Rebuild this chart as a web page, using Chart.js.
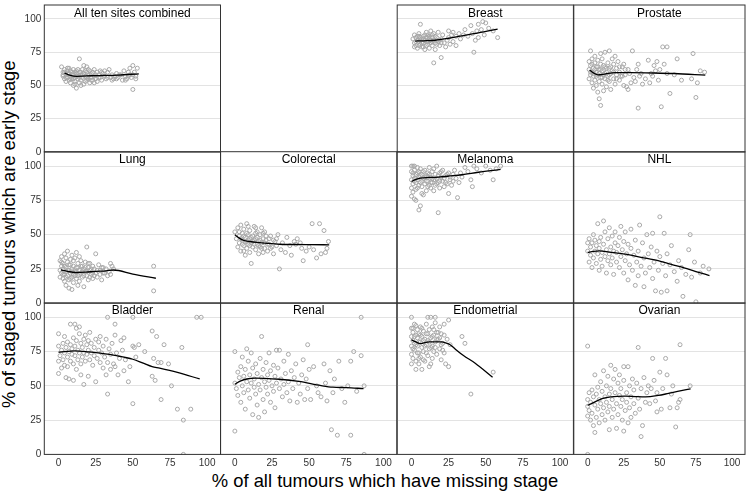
<!DOCTYPE html>
<html>
<head>
<meta charset="utf-8">
<script src="https://cdn.jsdelivr.net/npm/chart.js@4.4.1/dist/chart.umd.min.js"></script>
<style>
  body { margin: 0; background: #fff; }
  #wrap { position: relative; width: 750px; height: 492px; overflow: hidden; }
  #wrap canvas { position: absolute; left: 0; top: 0; }
  .axtitle { position: absolute; font-family: "Liberation Sans", Arial, sans-serif; font-size: 18.4px; line-height: 18.4px; color: #000; white-space: nowrap; text-align: center; }
</style>
</head>
<body>
<div id="wrap">
  <div class="axtitle" style="left:185px; top:472px; width:400px;">% of all tumours which have missing stage</div>
  <div class="axtitle" style="left:-191px; top:224.8px; width:400px; transform:rotate(-90deg);">% of staged tumours which are early stage</div>
</div>
<script>
// tick labels on both axes
const tickVals = [0, 25, 50, 75, 100];

// [% missing stage, % early stage] per site
const allSites = [[2,64],[3,60],[3,57],[4,55],[4,62],[5,58],[5,53],[6,61],[6,56],[7,59],[7,54],[7,63],[8,57],[8,52],[9,60],[9,55],[10,58],[10,50],[10,62],[11,56],[11,53],[12,59],[12,48],[12,61],[13,55],[13,57],[14,70],[14,52],[14,60],[15,58],[15,54],[16,62],[16,56],[17,65],[17,59],[17,51],[18,57],[18,53],[19,60],[19,64],[20,55],[20,58],[21,52],[21,61],[22,56],[22,59],[23,54],[24,57],[24,62],[25,55],[26,60],[26,53],[27,58],[28,61],[28,56],[29,54],[30,59],[31,57],[32,55],[33,60],[34,62],[35,56],[36,58],[37,55],[38,57],[39,59],[40,56],[42,58],[43,54],[44,61],[45,57],[46,55],[47,60],[48,63],[49,56],[50,58],[50,65],[50,47],[51,60],[52,57],[53,63],[45,54],[41,58],[47,57],
  [3,58],[4,60],[5,56],[6,59],[8,61],[9,58],[10,55],[11,60],[12,57],[13,62],[14,56],[15,60],[16,58],[18,61],[19,56],[20,62],[21,58],[22,54],[23,60],[25,58],[27,56],[29,60],[31,61],[33,56],[6,63],[8,55],[11,51],[15,50],[19,54],[24,52],[36,54],[39,55],[48,58],[52,55]];
const allSitesFit = [[4,59.3],[8,57.6],[12,56.9],[16,57],[22,57.3],[30,57.5],[40,57.8],[54,58.8]];

const breast = [[1,85],[2,82],[2,88],[3,80],[3,86],[4,84],[4,78],[5,89],[5,83],[6,96],[6,81],[6,86],[7,79],[7,85],[8,87],[8,82],[9,77],[9,84],[10,90],[10,86],[10,80],[11,83],[11,88],[12,78],[12,85],[13,82],[13,91],[14,86],[14,80],[15,67],[15,84],[15,89],[16,82],[16,77],[17,86],[18,83],[18,90],[19,80],[20,71],[20,85],[21,88],[22,82],[23,79],[24,84],[25,91],[25,86],[26,81],[27,88],[28,90],[28,83],[30,87],[30,80],[32,89],[33,85],[35,88],[36,92],[38,87],[40,95],[41,89],[42,75],[43,84],[44,91],[45,86],[45,96],[47,92],[48,98],[49,88],[50,97],[52,93],[55,91],[58,86],
  [3,83],[5,87],[7,82],[8,79],[9,88],[11,81],[12,87],[13,84],[14,83],[16,87],[17,81],[19,84],[4,87],[6,84],[10,83],[2,79],[5,80],[8,85],[11,86],[14,88],[17,84],[20,82]];
const breastFit = [[2.5,83.4],[8,83.6],[16,84],[25,85.5],[34,87.3],[45,89.5],[58,92.4]];

const prostate = [[1,68],[1,62],[1,55],[2,76],[2,58],[2,65],[3,52],[3,70],[3,60],[4,63],[4,48],[4,57],[5,67],[5,54],[5,72],[6,60],[6,50],[6,64],[7,58],[7,45],[7,69],[8,62],[8,53],[8,40],[9,66],[9,56],[9,35],[9,74],[10,61],[10,51],[10,70],[11,58],[11,46],[12,64],[12,55],[12,75],[13,60],[13,49],[14,67],[14,57],[15,53],[15,76],[15,63],[16,59],[16,47],[17,70],[17,61],[18,55],[18,66],[19,51],[19,72],[20,58],[20,63],[21,68],[22,54],[22,60],[23,57],[24,64],[25,66],[25,50],[26,58],[27,49],[28,62],[28,47],[29,59],[30,52],[31,76],[32,56],[33,53],[34,62],[35,66],[35,33],[36,57],[37,59],[38,51],[40,55],[42,69],[43,52],[44,59],[45,57],[46,65],[47,61],[48,68],[49,54],[50,62],[51,34],[52,79],[53,66],[55,79],[55,59],[57,44],[60,58],[62,70],[65,54],[72,55],[73,74],[75,41],[76,52],[78,61],[81,60],
  [2,60],[3,66],[4,59],[5,62],[6,57],[7,64],[8,59],[9,62],[10,56],[11,65],[12,59],[13,63],[14,54],[16,64],[18,60],[20,55],[22,64],[24,57],[26,62],[15,58]];
const prostateFit = [[1.4,61.7],[4,59.5],[7,58],[12,58.6],[19,59.6],[30,59.6],[45,59.4],[60,59],[81.5,57.8]];

const lung = [[1,24],[1,31],[1,19],[2,27],[2,22],[2,34],[3,18],[3,25],[3,29],[4,21],[4,36],[4,16],[5,26],[5,23],[5,13],[6,30],[6,20],[6,38],[7,24],[7,17],[7,11],[8,28],[8,22],[8,32],[9,19],[9,25],[9,10],[10,27],[10,15],[10,21],[11,33],[11,23],[12,18],[12,26],[12,37],[13,20],[13,29],[13,13],[14,24],[14,16],[15,22],[15,31],[16,27],[16,19],[17,25],[17,12],[18,23],[18,30],[19,41],[19,20],[20,26],[20,17],[21,24],[21,29],[22,21],[23,27],[23,18],[24,25],[25,36],[25,22],[26,19],[27,28],[28,24],[29,17],[30,26],[31,22],[33,20],[35,29],[35,21],[36,27],[37,25],[64,27],[64,9],
  [3,21],[4,27],[5,19],[6,24],[7,28],[8,18],[9,23],[10,31],[11,20],[12,23],[13,26],[14,21],[15,27],[16,23],[17,20],[18,26],[19,23],[20,29],[21,19],[22,25],[23,22],[24,20],[26,24],[28,21],[29,26],[30,22],[32,25],[34,23],[2,30],[5,33],[9,35],[14,34]];
const lungFit = [[1.6,24.3],[6,23.2],[12,22.4],[18,22.6],[25,23.2],[32,23.6],[37,24.2],[50,21.2],[65.5,18.2]];

const colorectal = [[0,52],[1,47],[2,41],[2,55],[3,49],[3,44],[4,57],[4,38],[5,51],[5,46],[6,42],[6,54],[7,48],[7,35],[8,45],[8,58],[8,40],[9,50],[9,43],[10,47],[10,37],[10,53],[11,44],[11,29],[12,49],[12,41],[13,46],[13,56],[14,39],[14,51],[15,43],[15,48],[16,45],[16,36],[17,50],[17,41],[18,55],[18,44],[19,47],[20,40],[20,52],[21,46],[22,38],[23,43],[24,49],[25,41],[26,36],[27,45],[28,42],[29,50],[30,25],[31,39],[32,44],[34,37],[35,48],[37,42],[38,35],[40,45],[41,43],[42,47],[44,44],[45,40],[46,31],[48,38],[50,41],[52,58],[53,39],[55,33],[57,58],[58,36],[60,53],[61,37],[62,40],[63,45],
  [3,52],[4,47],[5,43],[6,49],[7,45],[8,51],[9,46],[10,42],[11,48],[12,45],[13,43],[14,47],[15,52],[16,42],[17,46],[18,40],[19,51],[20,44],[21,49],[22,43],[23,47],[24,40],[26,46],[28,47],[6,38],[9,56],[14,55],[19,37]];
const colorectalFit = [[0,49.9],[3,47.5],[6,45.8],[10,45],[15,44.3],[22,43.6],[30,43],[40,42.8],[50,42.7],[63.5,42.6]];

const melanoma = [[0,96],[0,90],[0,84],[0,78],[1,100],[1,93],[1,87],[1,81],[2,97],[2,91],[2,76],[3,94],[3,88],[3,75],[4,99],[4,90],[4,84],[5,96],[5,92],[5,68],[6,71],[6,98],[6,88],[7,94],[7,85],[8,91],[8,79],[9,97],[9,87],[10,93],[10,82],[11,95],[11,89],[12,99],[12,86],[13,92],[13,84],[14,96],[14,88],[15,90],[15,82],[16,94],[16,86],[17,100],[17,91],[18,66],[18,88],[19,95],[19,84],[20,92],[21,89],[21,97],[22,85],[23,93],[24,87],[25,80],[25,95],[26,90],[27,86],[28,94],[29,97],[30,91],[31,77],[32,88],[33,95],[34,92],[36,99],[38,96],[40,90],[41,85],[42,100],[44,98],[47,95],[50,100],[53,97],[55,90],[57,98],[60,100],
  [1,95],[2,89],[3,91],[4,95],[5,86],[6,93],[7,89],[8,96],[9,92],[10,89],[11,92],[12,94],[13,88],[14,91],[15,98],[16,90],[17,87],[18,93],[19,89],[20,96],[22,91],[23,88],[24,94],[26,92],[28,89],[3,83],[7,80],[11,85],[0,100],[2,100]];
const melanomaFit = [[0,88.8],[3,90.3],[6,91.3],[12,91.7],[18,92],[26,92.8],[34,93.7],[45,95.5],[60,97.6]];

const nhl = [[0,38],[0,44],[1,30],[1,47],[2,35],[2,41],[3,26],[3,44],[4,50],[4,33],[5,38],[5,46],[6,29],[6,42],[7,36],[7,58],[8,45],[8,24],[8,40],[9,32],[9,48],[10,37],[10,27],[11,60],[11,43],[12,34],[12,52],[13,39],[13,22],[14,47],[14,31],[15,36],[15,55],[16,41],[16,28],[17,49],[17,33],[18,38],[18,21],[19,44],[19,52],[20,30],[20,37],[21,42],[22,26],[22,48],[23,34],[23,56],[24,39],[25,22],[25,45],[26,31],[26,52],[27,36],[28,17],[28,43],[29,28],[30,40],[30,54],[31,24],[32,35],[33,13],[33,46],[34,30],[35,20],[35,38],[36,57],[37,27],[38,44],[39,12],[39,33],[40,22],[41,50],[42,36],[43,26],[44,41],[45,18],[45,51],[46,30],[47,9],[48,38],[49,24],[50,63],[50,34],[51,8],[52,29],[53,51],[54,20],[55,9],[55,36],[57,28],[58,42],[60,23],[62,16],[63,31],[65,26],[66,5],[68,21],[70,39],[71,50],[72,19],[74,30],[75,1],[78,22],[80,27],[84,25]];
const nhlFit = [[0,37],[4,37.8],[8,38.2],[15,37.3],[26,35.8],[37,33.5],[48.8,31.1],[58,28.3],[66.8,25.8],[75,23.1],[84.4,20.2]];

const bladder = [[0,59],[0,68],[0,88],[0,79],[1,72],[2,76],[2,63],[3,81],[3,69],[4,74],[4,86],[4,65],[5,78],[5,56],[6,71],[6,82],[6,64],[7,75],[7,55],[8,80],[8,95],[8,68],[9,73],[9,77],[10,85],[10,66],[10,54],[11,79],[11,95],[11,72],[12,62],[12,83],[12,92],[13,76],[13,69],[14,88],[14,74],[14,93],[15,81],[15,66],[15,58],[16,78],[16,71],[17,84],[17,51],[17,74],[18,68],[18,87],[19,80],[19,73],[20,57],[20,83],[20,76],[21,69],[21,89],[22,74],[22,81],[23,65],[24,78],[24,72],[25,84],[25,53],[26,70],[27,82],[27,76],[28,67],[28,86],[29,74],[30,79],[30,63],[31,71],[32,84],[32,58],[33,44],[33,100],[33,67],[34,77],[35,73],[35,62],[36,81],[37,66],[38,95],[38,64],[38,87],[39,74],[40,58],[41,70],[42,83],[43,76],[44,61],[44,85],[45,69],[47,53],[48,64],[50,100],[50,37],[50,79],[51,78],[52,71],[54,80],[58,75],[63,90],[63,57],[64,70],[65,54],[66,86],[67,67],[69,67],[69,40],[71,80],[74,66],[76,50],[80,33],[83,78],[84,25],[84,0],[89,33],[93,100],[96,100]];
const bladderFit = [[0,74.5],[6,75.2],[11,75.5],[20,74.8],[28,73.8],[39,72],[50,69.4],[57,66.5],[63,64],[68,62.9],[80,59.8],[95,55]];

const renal = [[0,75],[0,17],[0,52],[1,48],[2,60],[2,43],[3,56],[4,64],[4,38],[5,50],[5,71],[6,57],[6,45],[7,62],[7,33],[8,53],[8,77],[9,47],[9,68],[10,58],[10,41],[11,52],[11,74],[12,63],[12,29],[13,49],[13,55],[14,66],[14,44],[15,59],[15,36],[16,51],[16,27],[17,70],[17,47],[18,86],[18,56],[19,62],[19,40],[20,53],[20,31],[21,67],[21,49],[22,58],[22,44],[23,74],[23,54],[24,61],[24,38],[25,50],[26,65],[26,46],[27,57],[27,34],[28,76],[28,52],[29,63],[30,48],[30,76],[31,55],[32,42],[33,68],[33,51],[34,59],[35,45],[36,73],[36,53],[37,39],[38,61],[39,48],[40,56],[41,66],[42,38],[43,52],[44,44],[45,58],[46,69],[47,40],[48,55],[49,80],[49,48],[50,62],[51,40],[53,64],[55,50],[56,45],[58,42],[60,66],[61,52],[62,39],[64,61],[65,18],[66,45],[67,55],[69,14],[70,68],[72,48],[74,38],[76,50],[78,14],[78,68],[80,75],[82,46],[85,100],[85,72],[87,50],[87,0]];
const renalFit = [[0,51.2],[4,53.6],[8,55],[14,55.6],[20,55.5],[30,54.8],[43,53.2],[58,50.2],[66,49],[75,48.7],[86.6,48]];

const endometrial = [[0,100],[0,92],[0,86],[0,79],[0,73],[0,66],[1,89],[1,83],[1,70],[2,95],[2,81],[2,76],[3,87],[3,62],[3,68],[4,91],[4,79],[4,85],[5,74],[5,88],[5,66],[6,82],[6,93],[6,71],[7,62],[7,86],[7,78],[8,90],[8,75],[9,84],[9,68],[10,95],[10,80],[10,88],[11,72],[11,100],[11,83],[12,77],[12,91],[12,64],[13,85],[13,100],[14,79],[14,93],[14,70],[15,87],[15,75],[16,100],[16,82],[16,96],[17,89],[17,73],[18,84],[19,93],[19,77],[20,69],[20,88],[21,81],[22,95],[22,74],[23,66],[24,84],[25,98],[25,64],[26,80],[34,86],[36,81],[40,44],[55,60],
  [1,92],[2,86],[3,80],[4,74],[5,82],[6,87],[7,92],[8,83],[9,79],[10,74],[11,88],[12,82],[13,78],[14,86],[15,91],[16,78],[17,84],[18,89],[19,85],[20,80],[21,76],[22,87],[1,77],[3,94],[5,70],[8,69],[13,66]];
const endometrialFit = [[0,83.5],[3,82],[6,80.8],[9,81.6],[12,82],[16,82],[20.4,82],[23,81.3],[26,80],[29.4,76.9],[35,72.1],[42.9,66.5],[54.6,56.3]];

const ovarian = [[0,79],[0,40],[0,35],[0,28],[0,0],[1,45],[1,32],[2,38],[2,25],[3,47],[3,30],[4,42],[4,21],[5,36],[5,16],[5,58],[6,44],[6,27],[7,33],[7,49],[8,40],[8,23],[9,53],[9,37],[10,29],[10,46],[11,61],[11,34],[12,42],[12,25],[13,50],[13,38],[14,31],[14,57],[15,44],[15,18],[15,35],[16,65],[16,48],[17,27],[17,40],[18,55],[18,33],[19,45],[19,62],[20,19],[20,37],[21,52],[21,29],[22,43],[22,58],[23,35],[23,48],[24,25],[24,40],[25,17],[25,54],[25,64],[26,32],[27,45],[27,38],[28,64],[28,23],[29,50],[29,34],[30,42],[30,27],[31,55],[32,37],[32,47],[33,30],[34,52],[35,78],[35,41],[36,33],[37,13],[37,48],[38,21],[39,56],[40,38],[41,45],[42,50],[43,37],[44,48],[45,70],[46,54],[47,39],[48,31],[48,45],[50,60],[51,33],[52,48],[54,70],[55,58],[57,34],[58,44],[59,50],[61,20],[62,34],[63,38],[64,80],[64,40],[71,50]];
const ovarianFit = [[0,35.7],[4,37.8],[8,39.8],[12,41.2],[16,42],[26,42.5],[33,42.2],[40,42],[48.8,43],[56,44.5],[62.3,45.9],[71.3,47.8]];

const panels = [
  { label: 'All ten sites combined', pts: allSites, fit: allSitesFit, row: 0, col: 0 },
  { label: 'Breast', pts: breast, fit: breastFit, row: 0, col: 2 },
  { label: 'Prostate', pts: prostate, fit: prostateFit, row: 0, col: 3 },
  { label: 'Lung', pts: lung, fit: lungFit, row: 1, col: 0 },
  { label: 'Colorectal', pts: colorectal, fit: colorectalFit, row: 1, col: 1 },
  { label: 'Melanoma', pts: melanoma, fit: melanomaFit, row: 1, col: 2 },
  { label: 'NHL', pts: nhl, fit: nhlFit, row: 1, col: 3 },
  { label: 'Bladder', pts: bladder, fit: bladderFit, row: 2, col: 0 },
  { label: 'Renal', pts: renal, fit: renalFit, row: 2, col: 1 },
  { label: 'Endometrial', pts: endometrial, fit: endometrialFit, row: 2, col: 2 },
  { label: 'Ovarian', pts: ovarian, fit: ovarianFit, row: 2, col: 3 }
];

const colLeft = [44.3, 220.6, 397.2, 573.8];
const rowTop = [0.5, 151.7, 302.9];
const panelW = 176.2, panelH = 151.5;
const W = 750, H = 492;
const FONT = '"Liberation Sans", Arial, sans-serif';

Chart.defaults.font.family = FONT;

// panel border + strip label inside the top of each panel
const panelFrame = {
  id: 'panelFrame',
  afterDraw(chart, args, opts) {
    const { ctx, chartArea: a } = chart;
    ctx.save();
    ctx.strokeStyle = '#333';
    ctx.lineWidth = 1;
    ctx.strokeRect(a.left, a.top, a.right - a.left, a.bottom - a.top);
    ctx.fillStyle = '#000';
    ctx.font = '12px ' + FONT;
    ctx.textAlign = 'center';
    ctx.textBaseline = 'alphabetic';
    ctx.fillText(opts.label, (a.left + a.right) / 2, a.top + 11.5);
    ctx.restore();
  }
};

const toXY = arr => arr.map(([x, y]) => ({ x, y }));
const setTicks = s => { s.ticks = tickVals.map(v => ({ value: v })); };

const wrap = document.getElementById('wrap');
panels.forEach(p => {
  const cv = document.createElement('canvas');
  cv.width = W; cv.height = H;
  wrap.appendChild(cv);
  const left = colLeft[p.col], top = rowTop[p.row];
  // the axis boxes take the margin space where labels are shown
  const yW = p.col === 0 ? left : 0;
  const xH = p.row === 2 ? 16 : 0;
  new Chart(cv.getContext('2d'), {
    type: 'scatter',
    data: {
      datasets: [{
        data: toXY(p.fit),
        showLine: true,
        borderColor: '#000',
        borderWidth: 1.3,
        pointRadius: 0,
        cubicInterpolationMode: 'monotone'
      }, {
        data: toXY(p.pts),
        pointStyle: 'circle',
        pointRadius: 2,
        borderWidth: 1,
        borderColor: '#a8a8a8',
        backgroundColor: 'rgba(0,0,0,0)'
      }]
    },
    options: {
      responsive: false,
      animation: false,
      events: [],
      layout: { padding: { left: left - yW, top: top, right: Math.max(W - left - panelW, 0), bottom: H - top - panelH - xH } },
      plugins: { legend: { display: false }, tooltip: { enabled: false }, panelFrame: { label: p.label } },
      scales: {
        x: {
          type: 'linear', min: -9.6, max: 109,
          afterBuildTicks: setTicks,
          afterFit: s => { s.height = xH; s.paddingLeft = 0; s.paddingRight = 0; },
          grid: { display: false, drawTicks: false },
          border: { display: false },
          ticks: { display: xH > 0, padding: 3, autoSkip: false, maxRotation: 0, color: '#333', font: { size: 10 } }
        },
        y: {
          type: 'linear', min: 0, max: 110.5,
          afterBuildTicks: setTicks,
          afterFit: s => { s.width = yW; s.paddingTop = 0; s.paddingBottom = 0; },
          grid: { color: '#e3e3e3', lineWidth: 1, drawTicks: false },
          border: { display: false },
          ticks: { display: yW > 0, padding: 3, autoSkip: false, color: '#333', font: { size: 10 } }
        }
      }
    },
    plugins: [panelFrame]
  });
});
</script>
</body>
</html>
